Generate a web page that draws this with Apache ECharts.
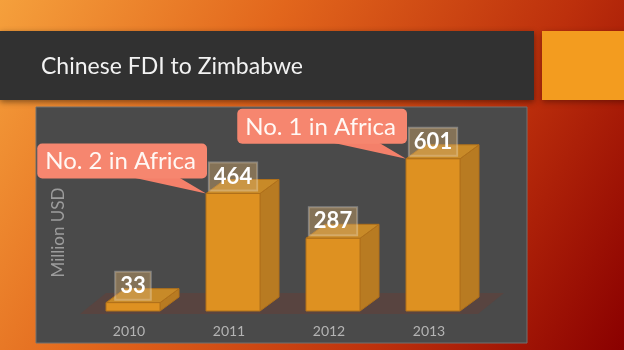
<!DOCTYPE html>
<html>
<head>
<meta charset="utf-8">
<script src="https://cdn.jsdelivr.net/npm/echarts@6/dist/echarts.min.js"></script>
<style>html,body{margin:0;padding:0;}#c{width:624px;height:350px;}</style>
</head>
<body>
<div id="c"></div>
<script>
var years = ['2010', '2011', '2012', '2013'];
var fdi = [33, 464, 287, 601];
var calloutYears = ['2011', '2013'];
var calloutValues = [464, 601];
var calloutTexts = ['No. 2 in Africa', 'No. 1 in Africa'];
var titleText = 'Chinese FDI to Zimbabwe';
var yName = 'Million USD';

var chart = echarts.init(document.getElementById('c'));
var DX = 19, DY = -14, BAR_RATIO = 0.54;

function barRender(params, api) {
  var cat = api.value(0), val = api.value(1);
  var top = api.coord([cat, val]);
  var base = api.coord([cat, 0]);
  var hw = api.size([1, 0])[0] * BAR_RATIO / 2;
  var x0 = top[0] - hw, x1 = top[0] + hw, yt = top[1], yb = base[1];
  var edge = '#b0701a';
  return {
    type: 'group',
    children: [
      { type: 'polygon', shape: { points: [[x1, yt], [x1 + DX, yt + DY], [x1 + DX, yb + DY], [x1, yb]] },
        style: { fill: '#b87b22', stroke: edge, lineWidth: 1 } },
      { type: 'polygon', shape: { points: [[x0, yt], [x1, yt], [x1 + DX, yt + DY], [x0 + DX, yt + DY]] },
        style: { fill: '#c88a28', stroke: edge, lineWidth: 1 } },
      { type: 'rect', shape: { x: x0, y: yt, width: x1 - x0, height: yb - yt },
        style: { fill: '#de9121', stroke: edge, lineWidth: 1 } },
      { type: 'text', style: {
          text: String(val), x: top[0], y: yt - 17, align: 'center', verticalAlign: 'middle',
          fill: '#ffffff', font: 'bold 22px Lato', backgroundColor: 'rgba(205,165,105,0.45)',
          borderColor: 'rgba(255,255,255,0.3)', borderWidth: 1, padding: [4, 5, 2, 5] } }
    ]
  };
}

function floorRender(params, api) {
  var a = api.coord([0, 0]);
  var b = api.coord([years.length - 1, 0]);
  var band = api.size([1, 0])[0];
  var l = a[0] - band / 2 - 3, r = b[0] + band / 2 - 5, y = a[1] + 3;
  return { type: 'polygon', shape: { points: [[l, y], [r, y], [r + 26, y - 21], [l + 26, y - 21]] },
    style: { fill: '#584440' } };
}

function calloutRender(params, api) {
  var cat = api.value(0), val = api.value(1);
  var top = api.coord([cat, val]);
  var hw = api.size([1, 0])[0] * BAR_RATIO / 2;
  var tx = top[0] - hw, ty = top[1];
  var right = tx + 1, bottom = ty - 15;
  return {
    type: 'group',
    children: [
      { type: 'polygon', shape: { points: [[right - 74, bottom - 1], [right - 28, bottom - 1], [tx, ty]] },
        style: { fill: '#f4806a' } },
      { type: 'text', style: {
          text: calloutTexts[params.dataIndex], x: right, y: bottom, align: 'right', verticalAlign: 'bottom',
          fill: '#fff8f4', font: '24px Lato', backgroundColor: '#f6866f', borderRadius: 5,
          padding: [6, 11, 5, 8] } }
    ]
  };
}

var option = {
  backgroundColor: new echarts.graphic.LinearGradient(0, 0, 1, 1, [
    { offset: 0, color: '#f5a03c' },
    { offset: 0.35, color: '#e2661c' },
    { offset: 0.7, color: '#bd300c' },
    { offset: 1, color: '#8a0000' }
  ]),
  animation: false,
  graphic: [
    { type: 'rect', z: 0, shape: { x: 0, y: 31, width: 534, height: 69 },
      style: { fill: '#313131', shadowBlur: 6, shadowColor: 'rgba(0,0,0,0.45)', shadowOffsetY: 2 } },
    { type: 'rect', z: 0, shape: { x: 542, y: 31, width: 90, height: 69 },
      style: { fill: '#f39c1f', shadowBlur: 6, shadowColor: 'rgba(0,0,0,0.35)', shadowOffsetY: 2 } },
    { type: 'text', z: 1, style: { text: titleText, x: 41, y: 67, verticalAlign: 'middle',
      fill: '#f2f2f2', font: '23px Lato' } },
    { type: 'rect', z: 0, shape: { x: 36, y: 107, width: 491, height: 236 },
      style: { fill: '#4a4a4a', stroke: '#707070', lineWidth: 1 } }
  ],
  grid: { left: 83, right: 141, top: 154, bottom: 39 },
  xAxis: {
    type: 'category', data: years,
    axisLine: { show: false }, axisTick: { show: false },
    axisLabel: { color: '#b4b4b4', fontSize: 14, fontFamily: 'Lato', margin: 13, padding: [0, 8, 0, 0] }
  },
  yAxis: {
    type: 'value', min: 0, max: 620,
    axisLine: { show: false }, axisTick: { show: false }, axisLabel: { show: false }, splitLine: { show: false },
    name: yName, nameLocation: 'middle', nameGap: 16,
    nameTextStyle: { color: '#9c9c9c', fontSize: 17, fontFamily: 'Lato' }
  },
  series: [
    { type: 'custom', z: 1, data: [[0, 0]], renderItem: floorRender, silent: true },
    { type: 'custom', z: 2, data: years.map(function (y, i) { return [y, fdi[i]]; }), renderItem: barRender },
    { type: 'custom', z: 3, data: calloutYears.map(function (y, i) { return [y, calloutValues[i]]; }), renderItem: calloutRender }
  ]
};
chart.setOption(option);
</script>
</body>
</html>
